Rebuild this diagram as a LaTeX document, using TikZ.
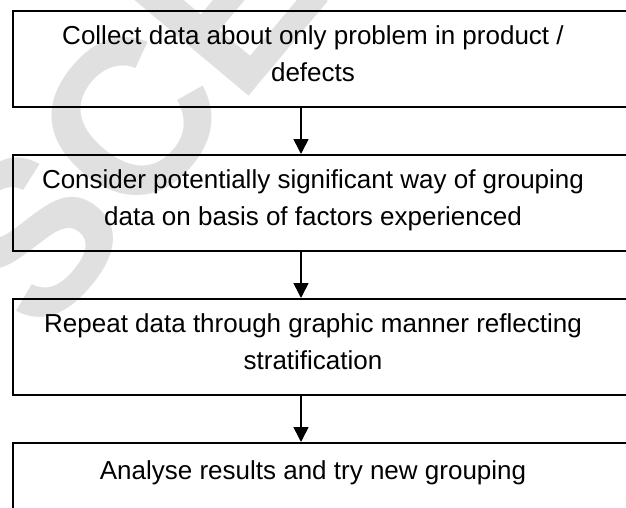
\documentclass[tikz,border=0pt]{standalone}
\usepackage{fontspec}
\setmainfont{Liberation Sans}
\usetikzlibrary{arrows.meta}
\begin{document}
\begin{tikzpicture}[x=1pt,y=-1pt,
  stepbox/.style={draw=black,line width=1.6pt,rectangle,minimum width=614pt,minimum height=96pt,anchor=north west,inner sep=0pt},
  lbl/.style={anchor=north,align=center,font=\fontsize{26}{37}\selectfont,inner sep=0pt},
  flow/.style={line width=1.6pt,-{Triangle[width=15pt,length=15pt]}},
  wm/.style={text=black!12,font=\fontsize{220}{220}\selectfont\bfseries}]
\useasboundingbox (0,0) rectangle (626,508);
% watermark
\begin{scope}
\clip (0,0) rectangle (626,508);
\node[wm,rotate=50] (w) at (130,120) {SCE};
\node[stepbox] (b1) at (12,10) {};
\node[stepbox] (b2) at (12,154) {};
\node[stepbox] (b3) at (12,298) {};
\node[stepbox,minimum height=120pt] (b4) at (12,442) {};
\end{scope}
\node[lbl] (t1) at (313,25) {Collect data about only problem in product /\\defects};
\node[lbl] (t2) at (313,169) {Consider potentially significant way of grouping\\data on basis of factors experienced};
\node[lbl] (t3) at (313,313) {Repeat data through graphic manner reflecting\\stratification};
\node[lbl] (t4) at (313,460) {Analyse results and try new grouping};
\coordinate (a1s) at (301,106); \coordinate (a1e) at (301,154);
\coordinate (a2s) at (301,250); \coordinate (a2e) at (301,298);
\coordinate (a3s) at (301,394); \coordinate (a3e) at (301,442);
\draw[flow] (a1s) -- (a1e);
\draw[flow] (a2s) -- (a2e);
\draw[flow] (a3s) -- (a3e);
\end{tikzpicture}
\end{document}
